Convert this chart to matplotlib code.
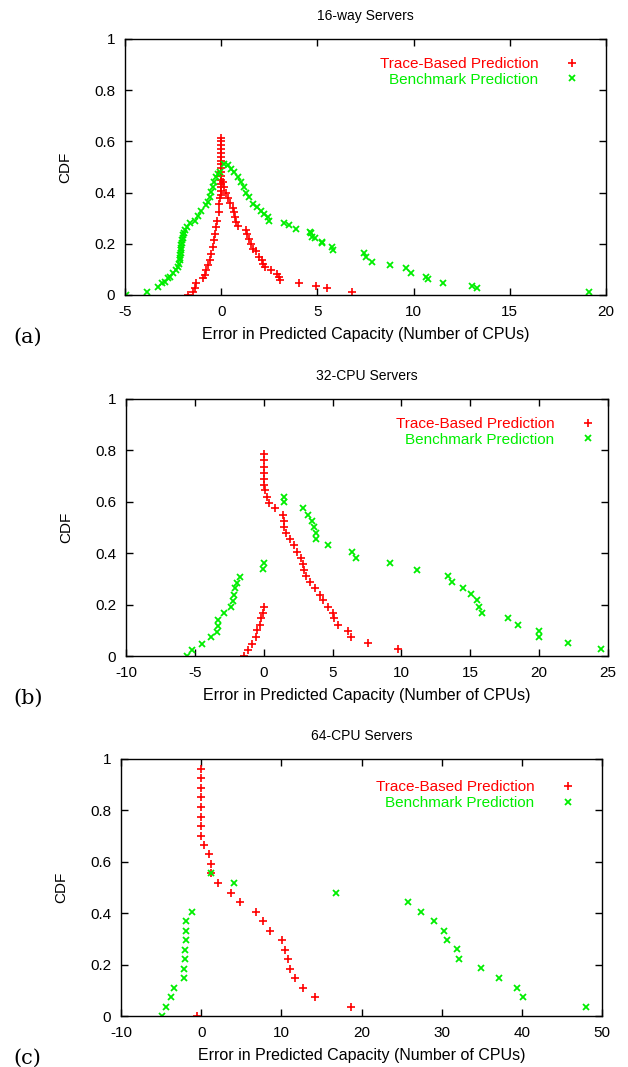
import matplotlib.pyplot as plt

plt.rcParams["font.family"] = ["Liberation Sans", "DejaVu Sans"]
plt.rcParams["axes.unicode_minus"] = False

## data: (a) 16-way servers
a_trace_x = [-1.72, -1.47, -1.38, -1.29, -0.95, -0.86, -0.78, -0.69, -0.60, -0.52,
             -0.43, -0.38, -0.34, -0.26, -0.21, -0.14, -0.09, -0.05,
             0, 0, 0, 0, 0, 0, 0, 0, 0, 0, 0, 0, 0, 0, 0, 0,
             0.09, 0.17, 0.26, 0.34, 0.47, 0.60, 0.69, 0.74, 0.78, 0.86,
             1.29, 1.34, 1.43, 1.55, 1.67, 1.81, 1.98, 2.12, 2.19, 2.28,
             2.59, 2.88, 2.98, 3.07, 4.05, 4.91, 5.52, 6.81]
a_trace_y = [0.0, 0.013, 0.026, 0.045, 0.065, 0.078, 0.097, 0.117, 0.136, 0.162,
             0.188, 0.214, 0.24, 0.266, 0.29, 0.325, 0.357, 0.377,
             0.39, 0.405, 0.42, 0.435, 0.45, 0.465, 0.48, 0.495, 0.51, 0.525, 0.54, 0.555, 0.57, 0.585, 0.60, 0.615,
             0.44, 0.42, 0.40, 0.38, 0.36, 0.34, 0.325, 0.305, 0.286, 0.27,
             0.253, 0.24, 0.22, 0.20, 0.18, 0.17, 0.15, 0.136, 0.123, 0.108,
             0.097, 0.082, 0.069, 0.058, 0.048, 0.036, 0.026, 0.013]
a_bench_x = [-4.95, -3.88, -3.28, -3.10, -2.93, -2.76, -2.64, -2.50, -2.36, -2.24,
             -2.20, -2.16, -2.14, -2.12, -2.11, -2.10, -2.08, -2.07, -2.05, -2.02,
             -2.00, -1.98, -1.94, -1.90, -1.78, -1.64, -1.38,
             -1.21, -1.03, -0.81, -0.69, -0.60, -0.52, -0.43, -0.38, -0.29, -0.17, -0.05,
             0.17, 0.34, 0.52, 0.69, 0.86, 1.03, 1.16, 1.29, 1.47, 1.64,
             1.84, 2.07, 2.24, 2.41, 2.50, 3.28, 3.53, 3.88, 4.60, 4.68,
             4.74, 4.85, 5.22, 5.25, 5.78, 5.80, 7.40, 7.54, 7.85, 8.75,
             9.58, 9.84, 10.65, 10.74, 11.52, 13.05, 13.30, 19.1]
a_bench_y = [0.0, 0.013, 0.032, 0.045, 0.052, 0.065, 0.071, 0.084, 0.097, 0.11,
             0.123, 0.136, 0.146, 0.156, 0.165, 0.175, 0.185, 0.195, 0.205, 0.214,
             0.224, 0.234, 0.244, 0.253, 0.266, 0.28, 0.29,
             0.31, 0.33, 0.35, 0.364, 0.383, 0.403, 0.42, 0.44, 0.46, 0.474, 0.48,
             0.513, 0.506, 0.493, 0.48, 0.46, 0.44, 0.42, 0.40, 0.383, 0.357,
             0.344, 0.33, 0.318, 0.305, 0.29, 0.282, 0.273, 0.256, 0.247, 0.243,
             0.227, 0.221, 0.208, 0.205, 0.189, 0.176, 0.165, 0.15, 0.13, 0.117,
             0.104, 0.085, 0.072, 0.061, 0.048, 0.035, 0.026, 0.013]

## data: (b) 32-CPU servers
b_trace_x = [-1.40, -1.14, -0.85, -0.53, -0.48, -0.29, -0.17, -0.07, 0.0,
             0, 0, 0, 0, 0, 0, 0.12, 0.24, 0.41, 0.80,
             1.40, 1.45, 1.50, 1.64, 1.93, 2.17, 2.42, 2.73, 2.83, 2.90,
             3.09, 3.33, 3.74, 4.10, 4.28, 4.66, 5.02, 5.07, 5.39, 6.15,
             6.32, 7.60, 9.78]
b_trace_y = [0.0, 0.022, 0.048, 0.074, 0.10, 0.12, 0.146, 0.168, 0.19,
             0.787, 0.763, 0.737, 0.714, 0.69, 0.666, 0.644, 0.62, 0.597, 0.575,
             0.549, 0.527, 0.503, 0.477, 0.454, 0.432, 0.406, 0.38, 0.358, 0.334,
             0.311, 0.286, 0.263, 0.239, 0.217, 0.191, 0.169, 0.146, 0.12, 0.097,
             0.073, 0.049, 0.026]
b_bench_x = [-5.60, -5.19, -4.47, -3.82, -3.38, -3.33, -3.31, -2.90, -2.37, -2.22,
             -2.17, -2.10, -1.93, -1.69, -0.07, 0.0,
             1.45, 1.50, 2.83, 3.21, 3.50, 3.62, 3.79, 3.82, 4.64, 6.39,
             6.70, 9.17, 11.16, 13.41, 13.65, 14.45, 15.06, 15.51, 15.66, 15.88,
             17.72, 18.49, 20.0, 20.02, 22.08, 24.5]
b_bench_y = [0.0, 0.025, 0.048, 0.074, 0.094, 0.116, 0.139, 0.168, 0.19, 0.215,
             0.237, 0.263, 0.285, 0.308, 0.337, 0.36,
             0.62, 0.598, 0.575, 0.549, 0.527, 0.503, 0.477, 0.454, 0.432, 0.406,
             0.382, 0.36, 0.335, 0.311, 0.287, 0.263, 0.24, 0.218, 0.192, 0.168,
             0.147, 0.121, 0.097, 0.075, 0.049, 0.026]

## data: (c) 64-CPU servers
c_trace_x = [-0.54, 0, 0, 0, 0, 0, 0, 0, 0,
             0.38, 0.92, 1.21, 1.25, 2.04, 3.71, 4.79, 6.83, 7.71, 8.63,
             10.08, 10.42, 10.83, 11.13, 11.75, 12.67, 14.17, 18.75]
c_trace_y = [0.0, 0.961, 0.925, 0.887, 0.851, 0.813, 0.776, 0.739, 0.702,
             0.666, 0.629, 0.592, 0.555, 0.516, 0.48, 0.442, 0.404, 0.368, 0.332,
             0.294, 0.257, 0.221, 0.183, 0.146, 0.109, 0.072, 0.035]
c_bench_x = [-4.83, -4.42, -3.75, -3.38, -2.13, -2.08, -2.00, -1.96, -1.92, -1.92,
             -1.92, -1.17, 1.25, 4.13, 16.83,
             25.85, 27.43, 29.10, 30.34, 30.70, 31.88, 32.17, 34.90, 37.20, 39.36,
             40.10, 47.97]
c_bench_y = [0.0, 0.035, 0.072, 0.109, 0.146, 0.183, 0.221, 0.257, 0.294, 0.332,
             0.368, 0.404, 0.555, 0.516, 0.48,
             0.442, 0.406, 0.37, 0.332, 0.296, 0.26, 0.222, 0.186, 0.147, 0.11,
             0.073, 0.036]

titles = ["16-way Servers", "32-CPU Servers", "64-CPU Servers"]
panel_tags = ["(a)", "(b)", "(c)"]
xlims = [(-5, 20), (-10, 25), (-10, 50)]
xtick_steps = [5, 5, 10]

RED = "#ff0000"
GREEN = "#00ee00"

fig = plt.figure(figsize=(6.28, 10.67), dpi=100)

# axes boxes in pixels: left, top, right, bottom
boxes = [(125, 39, 606, 295), (126, 399, 608, 656), (121, 759, 602, 1016)]
legend_right = [0.945, 0.974, 0.945]
legend_top = [0.93, 0.93, 0.917]
data = [(a_trace_x, a_trace_y, a_bench_x, a_bench_y),
        (b_trace_x, b_trace_y, b_bench_x, b_bench_y),
        (c_trace_x, c_trace_y, c_bench_x, c_bench_y)]

W, H = 628, 1067
for i in range(3):
    l, t, r, b = boxes[i]
    ax = fig.add_axes([l / W, 1 - b / H, (r - l) / W, (b - t) / H])
    tx, ty, bx, by = data[i]
    ax.plot(tx, ty, ls="none", marker="+", ms=5.5, mew=1.2, color=RED,
            label="Trace-Based Prediction")
    ax.plot(bx, by, ls="none", marker="x", ms=5, mew=1.3, color=GREEN,
            label="Benchmark Prediction")

    lo, hi = xlims[i]
    ax.set_xlim(lo, hi)
    ax.set_ylim(0, 1)
    ax.set_xticks(range(lo, hi + 1, xtick_steps[i]))
    ax.set_yticks([0, 0.2, 0.4, 0.6, 0.8, 1])
    ax.set_yticklabels(["0", "0.2", "0.4", "0.6", "0.8", "1"])
    ax.tick_params(direction="in", top=True, right=True, length=5, width=1,
                   labelsize=11, pad=7)
    for s in ax.spines.values():
        s.set_linewidth(1)

    ax.set_title(titles[i], fontsize=10, pad=14)
    ax.set_xlabel("Error in Predicted Capacity (Number of CPUs)", fontsize=11.5, labelpad=6)
    ax.set_ylabel("CDF", fontsize=11, labelpad=16)

    leg = ax.legend(loc="upper right", bbox_to_anchor=(legend_right[i], legend_top[i]),
                    frameon=False, markerfirst=False, fontsize=11, handlelength=1.0,
                    handletextpad=1.7, labelspacing=0.12, borderpad=0, borderaxespad=0,
                    labelcolor=[RED, GREEN])

    fig.text(13 / W, 1 - (b + 42) / H, panel_tags[i], fontsize=15,
             family="DejaVu Serif", va="center", ha="left")

plt.savefig("out.png", dpi=100)
